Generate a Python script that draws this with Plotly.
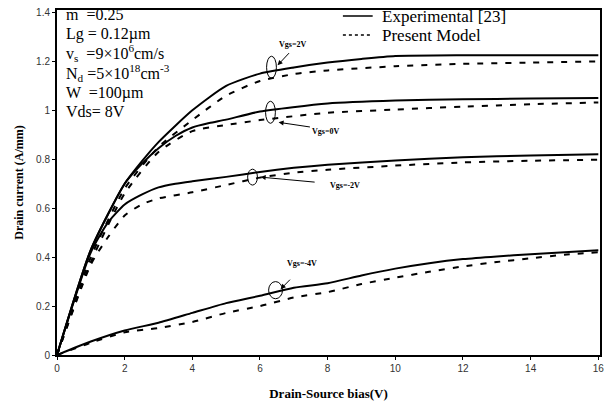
import plotly.graph_objects as go

# ---- data ----
vds_exp_2 = [0, 1, 2, 2.5, 3, 4, 5, 6, 7, 8, 9, 10, 12, 14, 16]
id_exp_2 = [0, 0.43, 0.70, 0.79, 0.87, 1.0, 1.10, 1.15, 1.175, 1.195, 1.21, 1.222, 1.225, 1.225, 1.225]
vds_mod_2 = [0, 1, 2, 3, 4, 5, 6, 7, 8, 10, 12, 14, 16]
id_mod_2 = [0, 0.40, 0.68, 0.85, 0.96, 1.06, 1.12, 1.148, 1.163, 1.18, 1.19, 1.195, 1.2]

vds_exp_0 = [0, 1, 2, 2.5, 3, 3.5, 4, 4.5, 5, 6, 8, 10, 12, 14, 16]
id_exp_0 = [0, 0.43, 0.70, 0.78, 0.845, 0.895, 0.93, 0.948, 0.962, 0.995, 1.028, 1.04, 1.045, 1.048, 1.05]
vds_mod_0 = [0, 1, 2, 3, 4, 5, 6, 8, 10, 12, 14, 16]
id_mod_0 = [0, 0.38, 0.66, 0.83, 0.915, 0.94, 0.96, 0.99, 1.003, 1.015, 1.025, 1.032]

vds_exp_m2 = [0, 1, 1.5, 2, 2.5, 3, 3.5, 4, 5, 6, 7, 8, 10, 12, 14, 16]
id_exp_m2 = [0, 0.42, 0.54, 0.615, 0.655, 0.685, 0.70, 0.71, 0.728, 0.748, 0.765, 0.778, 0.795, 0.808, 0.815, 0.82]
vds_mod_m2 = [0, 1, 1.5, 2, 2.5, 3, 4, 5, 6, 7, 8, 10, 12, 14, 16]
id_mod_m2 = [0, 0.37, 0.48, 0.57, 0.615, 0.64, 0.665, 0.695, 0.725, 0.745, 0.757, 0.774, 0.787, 0.794, 0.798]

vds_exp_m4 = [0, 1, 2, 3, 4, 5, 6, 7, 8, 9, 10, 11, 12, 13, 14, 15, 16]
id_exp_m4 = [0, 0.055, 0.1, 0.132, 0.172, 0.212, 0.242, 0.275, 0.293, 0.325, 0.353, 0.375, 0.392, 0.403, 0.412, 0.42, 0.428]
vds_mod_m4 = [0, 1, 2, 3, 4, 5, 6, 7, 8, 9, 10, 11, 12, 13, 14, 15, 16]
id_mod_m4 = [0, 0.05, 0.093, 0.11, 0.135, 0.172, 0.2, 0.235, 0.257, 0.29, 0.316, 0.34, 0.362, 0.38, 0.395, 0.41, 0.42]

x_ticks = [0, 2, 4, 6, 8, 10, 12, 14, 16]
y_ticks = [0, 0.2, 0.4, 0.6, 0.8, 1.0, 1.2, 1.4]
y_tick_text = ["0", "0.2", "0.4", "0.6", "0.8", "1", "1.2", "1.4"]

params = ["m  =0.25", "Lg = 0.12µm", "v<sub>s</sub>  =9×10<sup>6</sup>cm/s",
          "N<sub>d</sub> =5×10<sup>18</sup>cm<sup>-3</sup>", "W  =100µm", "Vds= 8V"]

SERIF = "Liberation Serif, Times New Roman, serif"
SANS = "Liberation Sans, Arial, sans-serif"

fig = go.Figure()
pairs = [(vds_exp_2, id_exp_2, vds_mod_2, id_mod_2),
         (vds_exp_0, id_exp_0, vds_mod_0, id_mod_0),
         (vds_exp_m2, id_exp_m2, vds_mod_m2, id_mod_m2),
         (vds_exp_m4, id_exp_m4, vds_mod_m4, id_mod_m4)]
for xe, ye, xm, ym in pairs:
    fig.add_trace(go.Scatter(x=xe, y=ye, mode="lines",
                             line=dict(color="black", width=2, shape="spline", smoothing=0.6),
                             showlegend=False))
    fig.add_trace(go.Scatter(x=xm, y=ym, mode="lines",
                             line=dict(color="black", width=2, dash="6px,8px", shape="spline", smoothing=0.6),
                             showlegend=False))

# legend (drawn manually)
fig.add_shape(type="line", xref="paper", yref="paper", x0=(345-57)/547, x1=(375-57)/547,
              y0=(355-16)/345, y1=(355-16)/345, line=dict(color="black", width=1.5))
fig.add_shape(type="line", xref="paper", yref="paper", x0=(345-57)/547, x1=(375-57)/547,
              y0=(355-35)/345, y1=(355-35)/345, line=dict(color="black", width=1.5, dash="3px,3px"))
fig.add_annotation(text="Experimental [23]", xref="paper", yref="paper", x=(382-57)/547, y=(355-16)/345,
                   xanchor="left", yanchor="middle", showarrow=False,
                   font=dict(family=SERIF, size=17, color="black"))
fig.add_annotation(text="Present Model", xref="paper", yref="paper", x=(382-57)/547, y=(355-35)/345,
                   xanchor="left", yanchor="middle", showarrow=False,
                   font=dict(family=SERIF, size=17, color="black"))

# parameter block
for i, t in enumerate(params):
    ypix = [15, 34, 53, 73, 93, 112][i]
    fig.add_annotation(text=t, xref="paper", yref="paper", x=(64-57)/547, y=(355-ypix)/345,
                       xanchor="left", yanchor="middle", showarrow=False,
                       font=dict(family=SERIF, size=16, color="black"))

# ellipses
for cx, cy, w, h in [(6.34, 1.176, 0.29, 0.09), (6.31, 0.992, 0.29, 0.09),
                     (5.78, 0.727, 0.29, 0.065), (6.46, 0.265, 0.41, 0.07)]:
    fig.add_shape(type="circle", x0=cx - w / 2, x1=cx + w / 2, y0=cy - h / 2, y1=cy + h / 2,
                  line=dict(color="black", width=1))

# Vgs labels with arrows
labels = [("Vgs=2V", 6.95, 1.27, 6.52, 1.184, 6.9, 1.24),
          ("Vgs=0V", 7.95, 0.914, 6.55, 0.951, 7.52, 0.931),
          ("Vgs=-2V", 8.5, 0.694, 6.02, 0.727, 7.66, 0.706),
          ("Vgs=-4V", 7.25, 0.376, 6.61, 0.269, 6.93, 0.314)]
for t, tx, ty, hx, hy, ax, ay in labels:
    fig.add_annotation(text=t, x=tx, y=ty, showarrow=False, xanchor="center", yanchor="middle",
                       font=dict(family=SERIF, size=8, color="black", weight="bold"))
    fig.add_annotation(text="", x=hx, y=hy, ax=ax, ay=ay, axref="x", ayref="y",
                       showarrow=True, arrowhead=2, arrowsize=1, arrowwidth=1, arrowcolor="black")

fig.update_layout(
    width=608, height=403,
    margin=dict(l=57, r=4, t=10, b=48),
    plot_bgcolor="white", paper_bgcolor="white",
    xaxis=dict(range=[0, 16.05], tickvals=x_ticks, ticks="outside", ticklen=3, tickcolor="black",
               showgrid=False, zeroline=False, showline=True, linecolor="black", linewidth=2, mirror=True,
               tickfont=dict(family=SANS, size=10, color="#333"),
               title=dict(text="Drain-Source bias(V)", standoff=16,
                          font=dict(family=SERIF, size=13, color="black", weight="bold"))),
    yaxis=dict(range=[0, 1.41], tickvals=y_ticks, ticktext=y_tick_text, ticks="outside", ticklen=3,
               tickcolor="black", showgrid=False, zeroline=False, showline=True, linecolor="black",
               linewidth=2, mirror=True,
               tickfont=dict(family=SANS, size=10, color="#333"),
               title=dict(text="Drain current (A/mm)", standoff=10,
                          font=dict(family=SERIF, size=12, color="black", weight="bold"))),
)

fig.write_html("out.html")
